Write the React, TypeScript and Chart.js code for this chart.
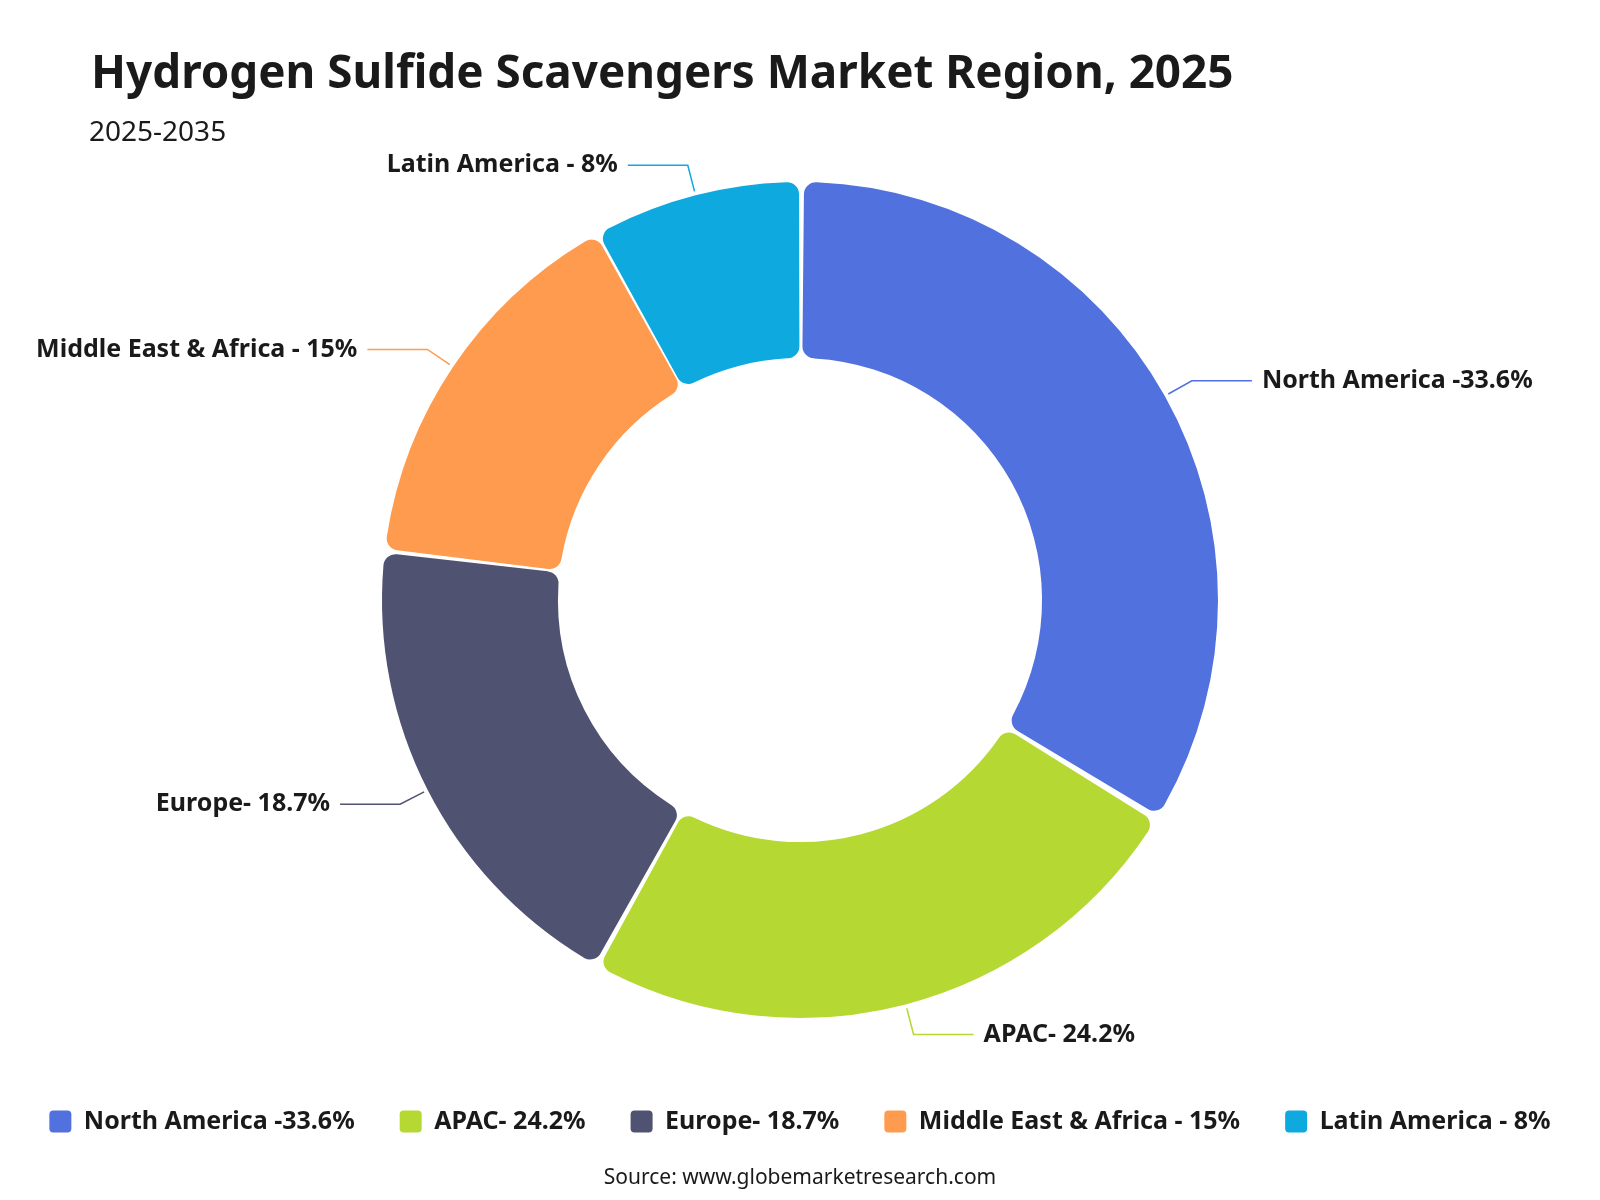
import React, { useEffect, useRef } from "react";
import { Chart, registerables } from "chart.js";

Chart.register(...registerables);

const categories = [
  "North America -33.6%",
  "APAC- 24.2%",
  "Europe- 18.7%",
  "Middle East & Africa - 15%",
  "Latin America - 8%",
];
const shares = [33.6, 24.2, 18.7, 15, 8];
const colors = ["#5071DE", "#B5D832", "#505271", "#FF9B4E", "#0EA9DF"];
const titleText = "Hydrogen Sulfide Scavengers Market Region, 2025";
const subtitleText = "2025-2035";
const sourceText = "Source: www.globemarketresearch.com";

const FONT = '"Noto Sans", "DejaVu Sans", sans-serif';
const TEXT = "#1a1a1a";
const SPACING = 6;

const calloutPlugin = {
  id: "callouts",
  afterDatasetsDraw(chart: any) {
    const ctx = chart.ctx;
    const meta = chart.getDatasetMeta(0);
    ctx.save();
    meta.data.forEach((arc: any, i: number) => {
      const p = arc.getProps(["x", "y", "startAngle", "endAngle", "outerRadius"], true);
      const mid = (p.startAngle + p.endAngle) / 2;
      const R = p.outerRadius + SPACING / 2;
      const c = Math.cos(mid);
      const s = Math.sin(mid);
      const x0 = p.x + c * (R + 4);
      const y0 = p.y + s * (R + 4);
      const x1 = p.x + c * (R + 31);
      const y1 = p.y + s * (R + 31);
      const right = c >= 0;
      const x2 = x1 + (right ? 60 : -60);
      ctx.beginPath();
      ctx.strokeStyle = colors[i];
      ctx.lineWidth = 1.5;
      ctx.moveTo(x0, y0);
      ctx.lineTo(x1, y1);
      ctx.lineTo(x2, y1);
      ctx.stroke();
      ctx.fillStyle = TEXT;
      ctx.font = `bold 25px ${FONT}`;
      ctx.textAlign = right ? "left" : "right";
      ctx.textBaseline = "middle";
      ctx.fillText(categories[i], x2 + (right ? 10 : -10), y1);
    });
    ctx.restore();
  },
};

const textPlugin = {
  id: "texts",
  afterDraw(chart: any) {
    const ctx = chart.ctx;
    ctx.save();
    ctx.fillStyle = TEXT;
    ctx.textBaseline = "alphabetic";
    ctx.textAlign = "left";
    ctx.font = `bold 45.8px ${FONT}`;
    ctx.fillText(titleText, 91, 88);
    ctx.font = `28px ${FONT}`;
    ctx.fillText(subtitleText, 89, 141);
    ctx.textAlign = "center";
    ctx.font = `21px ${FONT}`;
    ctx.fillText(sourceText, 800, 1184);
    ctx.restore();
  },
};

export default function App() {
  const ref = useRef<HTMLCanvasElement | null>(null);
  useEffect(() => {
    if (!ref.current) return;
    const chart = new Chart(ref.current, {
      type: "doughnut",
      data: {
        labels: categories,
        datasets: [
          {
            data: shares,
            backgroundColor: colors,
            borderWidth: 0,
            borderRadius: 12,
            spacing: SPACING,
          },
        ],
      },
      options: {
        responsive: false,
        animation: false,
        radius: 415,
        cutout: "57.6%",
        layout: { padding: { top: 136, bottom: 56, left: 0, right: 0 } },
        plugins: {
          tooltip: { enabled: false },
          legend: {
            position: "bottom",
            labels: {
              boxWidth: 22,
              boxHeight: 22,
              padding: 45,
              useBorderRadius: true,
              borderRadius: 4,
              color: TEXT,
              font: { family: FONT, size: 25, weight: "bold" },
              generateLabels: () =>
                categories.map((t, i) => ({
                  text: t,
                  fillStyle: colors[i],
                  strokeStyle: colors[i],
                  lineWidth: 0,
                  hidden: false,
                  index: i,
                  borderRadius: 4,
                  fontColor: TEXT,
                })),
            },
          },
        },
      } as any,
      plugins: [calloutPlugin, textPlugin],
    });
    return () => chart.destroy();
  }, []);
  return (
    <div style={{ position: "absolute", left: 0, top: 0, width: 1600, height: 1200, background: "#fff" }}>
      <canvas ref={ref} width={1600} height={1200} />
    </div>
  );
}
